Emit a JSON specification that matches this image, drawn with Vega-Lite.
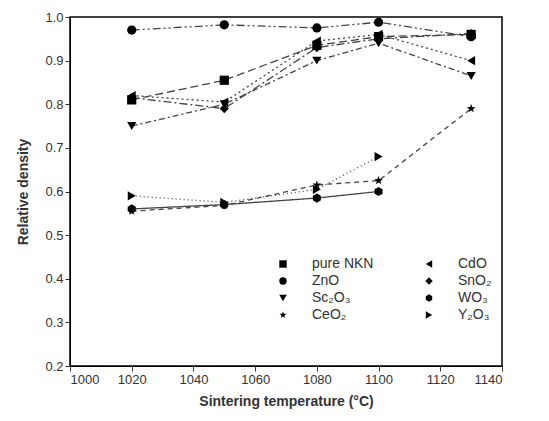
{
  "$schema": "https://vega.github.io/schema/vega-lite/v6.json",
  "width": 432,
  "height": 349,
  "autosize": {"type": "none"},
  "padding": {"left": 70, "top": 17, "right": 47, "bottom": 55},
  "background": "white",
  "config": {
    "font": "Liberation Sans",
    "view": {"stroke": "black", "strokeWidth": 1.5},
    "axis": {"grid": false, "domainColor": "black", "tickColor": "#333", "labelColor": "#333", "labelFontSize": 13, "titleFontSize": 14, "titleFontWeight": "bold", "titleColor": "#333", "tickSize": 5},
    "legend": {"orient": "none", "legendX": 206, "legendY": 240, "direction": "vertical", "columns": 2, "columnPadding": 48, "rowPadding": 3, "labelFontSize": 14, "labelColor": "#333", "symbolFillColor": "black", "symbolStrokeColor": "black", "symbolSize": 55, "labelOffset": 22}
  },
  "data": {"values": [
    {"t": 1020, "d": 0.97, "s": "ZnO"}, {"t": 1050, "d": 0.982, "s": "ZnO"}, {"t": 1080, "d": 0.975, "s": "ZnO"}, {"t": 1100, "d": 0.988, "s": "ZnO"}, {"t": 1130, "d": 0.955, "s": "ZnO"},
    {"t": 1020, "d": 0.81, "s": "pure NKN"}, {"t": 1050, "d": 0.855, "s": "pure NKN"}, {"t": 1080, "d": 0.935, "s": "pure NKN"}, {"t": 1100, "d": 0.955, "s": "pure NKN"}, {"t": 1130, "d": 0.96, "s": "pure NKN"},
    {"t": 1020, "d": 0.82, "s": "CdO"}, {"t": 1050, "d": 0.805, "s": "CdO"}, {"t": 1080, "d": 0.945, "s": "CdO"}, {"t": 1100, "d": 0.96, "s": "CdO"}, {"t": 1130, "d": 0.90, "s": "CdO"},
    {"t": 1020, "d": 0.815, "s": "SnO₂"}, {"t": 1050, "d": 0.79, "s": "SnO₂"}, {"t": 1080, "d": 0.93, "s": "SnO₂"}, {"t": 1100, "d": 0.95, "s": "SnO₂"}, {"t": 1130, "d": 0.962, "s": "SnO₂"},
    {"t": 1020, "d": 0.75, "s": "Sc₂O₃"}, {"t": 1050, "d": 0.80, "s": "Sc₂O₃"}, {"t": 1080, "d": 0.90, "s": "Sc₂O₃"}, {"t": 1100, "d": 0.94, "s": "Sc₂O₃"}, {"t": 1130, "d": 0.865, "s": "Sc₂O₃"},
    {"t": 1020, "d": 0.59, "s": "Y₂O₃"}, {"t": 1050, "d": 0.575, "s": "Y₂O₃"}, {"t": 1080, "d": 0.605, "s": "Y₂O₃"}, {"t": 1100, "d": 0.68, "s": "Y₂O₃"},
    {"t": 1020, "d": 0.56, "s": "WO₃"}, {"t": 1050, "d": 0.57, "s": "WO₃"}, {"t": 1080, "d": 0.585, "s": "WO₃"}, {"t": 1100, "d": 0.60, "s": "WO₃"},
    {"t": 1020, "d": 0.555, "s": "CeO₂"}, {"t": 1050, "d": 0.568, "s": "CeO₂"}, {"t": 1080, "d": 0.615, "s": "CeO₂"}, {"t": 1100, "d": 0.625, "s": "CeO₂"}, {"t": 1130, "d": 0.79, "s": "CeO₂"}
  ]},
  "encoding": {
    "x": {"field": "t", "type": "quantitative", "scale": {"domain": [1000, 1140], "nice": false}, "axis": {"values": [1000, 1020, 1040, 1060, 1080, 1100, 1120, 1140], "title": "Sintering temperature (°C)", "format": "d", "titlePadding": 8}},
    "y": {"field": "d", "type": "quantitative", "scale": {"domain": [0.2, 1.0], "nice": false, "zero": false}, "axis": {"values": [0.2, 0.3, 0.4, 0.5, 0.6, 0.7, 0.8, 0.9, 1.0], "format": ".1f", "title": "Relative density", "titlePadding": 14}}
  },
  "layer": [
    {
      "mark": {"type": "line", "color": "#444", "strokeWidth": 1.3},
      "encoding": {
        "detail": {"field": "s"},
        "strokeDash": {"field": "s", "type": "nominal", "legend": {"title": null},
          "scale": {"domain": ["pure NKN", "ZnO", "Sc₂O₃", "CeO₂", "CdO", "SnO₂", "WO₃", "Y₂O₃"],
                    "range": [[8, 4], [8, 3, 2, 3, 2, 3], [6, 3, 2, 3], [5, 4], [2, 3], [8, 3, 2, 3], [1, 0], [1, 3]]}}
      }
    },
    {
      "mark": {"type": "point", "filled": true, "color": "black", "opacity": 1, "size": 85},
      "encoding": {
        "shape": {"field": "s", "type": "nominal", "legend": {"title": null},
          "scale": {"domain": ["pure NKN", "ZnO", "Sc₂O₃", "CeO₂", "CdO", "SnO₂", "WO₃", "Y₂O₃"],
                    "range": ["square", "circle", "triangle-down", "M0,-1L0.235,-0.324L0.951,-0.309L0.38,0.124L0.588,0.809L0,0.4L-0.588,0.809L-0.38,0.124L-0.951,-0.309L-0.235,-0.324Z", "triangle-left", "diamond", "M0,-1L0.866,-0.5L0.866,0.5L0,1L-0.866,0.5L-0.866,-0.5Z", "triangle-right"]}
        }
      }
    }
  ]
}
